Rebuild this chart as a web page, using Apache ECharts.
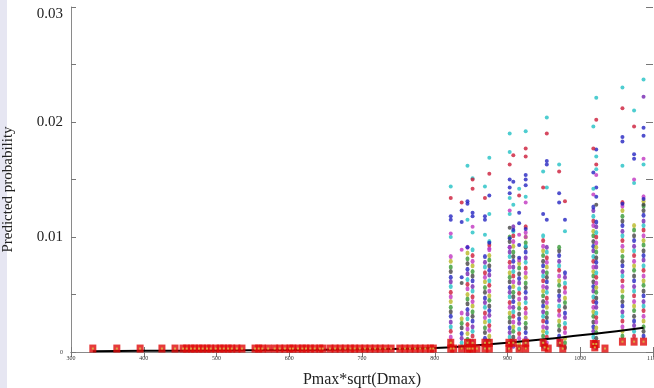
<!DOCTYPE html>
<html>
<head>
<meta charset="UTF-8" />
<script src="https://cdn.jsdelivr.net/npm/echarts@6/dist/echarts.min.js"></script>
<style>
  html, body, #main { margin: 0; padding: 0; width: 654px; height: 388px; background: #fff; }
</style>
</head>
<body>
<div id="main"></div>
<script>
// x positions (Pmax*sqrt(Dmax)) of the vertical point columns
const colX = [822, 837, 845, 852, 869, 875, 903, 908, 916, 925, 949, 954, 971, 979, 1018, 1022, 1058, 1074, 1087];

// dense part of each column, predicted probability in units of 1e-4
const denseVals = [
  [5, 9, 13, 18, 22, 26, 31, 35, 39, 44, 48, 52, 57, 61, 65, 70, 74, 79, 83],
  [4, 8, 12, 16, 21, 25, 29, 34],
  [3, 7, 11, 16, 20, 24, 29, 33, 37, 42, 46, 50, 55, 59, 63, 68, 72, 77, 81, 86, 91],
  [5, 9, 14, 18, 22, 27, 31, 35, 40, 44, 48, 53, 57, 62, 66, 70, 75, 79, 84, 89],
  [4, 8, 12, 17, 21, 26, 30, 34, 39, 43, 47, 52, 56, 61, 65, 69, 74, 78, 83],
  [6, 10, 14, 19, 23, 27, 32, 36, 40, 45, 49, 53, 58, 62, 67, 71, 75, 80, 84, 89, 93, 96],
  [4, 8, 13, 17, 21, 26, 30, 34, 39, 43, 48, 52, 56, 61, 65, 69, 74, 78, 83, 87, 91, 96, 100],
  [5, 9, 13, 18, 22, 26, 31, 35, 39, 44, 48, 52, 57, 61, 66, 70, 74, 79, 83, 87, 92, 96, 101, 105, 109],
  [3, 7, 12, 16, 20, 25, 29, 33, 38, 42, 46, 51, 55, 60, 64, 68, 73, 77, 80],
  [4, 8, 12, 17, 21, 25, 30, 34, 38, 43, 47, 52, 56, 60, 65, 69, 73, 78, 82, 87, 91, 95, 100, 104, 109],
  [5, 9, 14, 18, 22, 27, 31, 35, 40, 44, 49, 53, 57, 62, 66, 70, 75, 79, 84, 88, 92, 97, 101],
  [4, 8, 13, 17, 21, 26, 30, 34, 39, 43, 47, 52, 56, 61, 65, 69, 74, 78, 82, 87, 91],
  [6, 10, 14, 19, 23, 27, 32, 36, 40, 45, 49, 53, 58, 62, 66, 71, 75, 79, 84, 88, 91],
  [4, 8, 12, 17, 21, 25, 30, 34, 39, 43, 47, 52, 56, 60, 65, 69],
  [5, 9, 13, 18, 22, 26, 31, 35, 39, 44, 48, 53, 57, 61, 66, 70, 74, 79, 83, 88, 92, 96, 101, 105, 110, 114, 118, 123, 126],
  [4, 8, 12, 17, 21, 26, 30, 34, 39, 43, 47, 52, 56, 60, 65, 69, 74, 78, 82, 87, 91, 95, 100, 104, 109, 113],
  [14, 18, 22, 27, 31, 35, 40, 44, 48, 53, 57, 62, 66, 70, 75, 79, 83, 88, 92, 97, 101, 105, 110, 114, 118, 123, 127, 130],
  [14, 18, 23, 27, 31, 36, 40, 44, 49, 53, 57, 62, 66, 71, 75, 79, 84, 88, 92, 97, 101, 106, 110],
  [14, 18, 22, 27, 31, 36, 40, 44, 49, 53, 58, 62, 66, 71, 75, 80, 84, 88, 93, 97, 101, 106, 110, 114, 119, 123, 127, 131, 135]
];

// scattered upper points: [column index, value in 1e-4]
const sparseBlue = [[0,118],[0,115],[1,123],[1,113],[1,65],[2,131],[2,129],[2,91],[3,121],[3,118],[4,118],[4,115],
  [5,136],[5,95],[6,150],[6,143],[6,138],[6,99],[7,148],[7,106],[8,121],[8,112],[8,93],[8,82],[9,154],[9,150],
  [9,145],[9,107],[10,120],[11,166],[11,163],[11,115],[12,138],[12,130],[13,115],[14,156],[15,176],[15,143],
  [15,135],[16,187],[16,183],[16,129],[17,172],[17,168],[18,195],[18,188],[18,133]];
const sparseCyan = [[0,144],[0,100],[2,162],[2,115],[3,151],[3,104],[4,144],[4,102],[5,169],[5,120],[6,190],[6,174],
  [6,134],[6,120],[7,128],[8,142],[9,192],[9,135],[9,92],[10,157],[11,204],[11,143],[12,163],[13,105],[14,196],
  [14,142],[15,221],[15,170],[15,159],[16,230],[16,162],[17,210],[17,147],[18,237],[18,163]];
const sparseRed = [[0,134],[1,130],[3,150],[3,142],[4,134],[5,155],[6,163],[7,171],[8,136],[9,177],[9,170],[10,143],
  [11,190],[12,157],[13,131],[14,177],[15,202],[15,163],[16,212],[17,196]];
const sparseMagenta = [[0,103],[1,89],[3,109],[5,90],[6,123],[6,91],[8,102],[9,130],[9,100],[14,137],[15,154],[17,150],[18,168]];
const sparsePurple = [[18,222]];
const sparseGray = [[1,60],[6,108],[15,128],[18,128]];

// observed cases (red squares), x and value in 1e-4
const squareX = [330, 363, 395, 425, 443, 454, 459, 465, 470, 476, 481, 487, 492, 499, 505, 510, 516, 521, 528, 535,
  553, 558, 563, 571, 580, 587, 594, 601, 605, 612, 618, 623, 629, 635, 642, 646, 656, 663, 670, 677, 684, 690, 697,
  704, 711, 718, 725, 732, 740, 752, 759, 766, 773, 780, 787, 794, 798,
  822, 822, 826, 837, 845, 845, 848, 852, 852, 858, 869, 869, 875, 875, 902, 902, 908, 916, 925, 925, 949, 951, 956,
  972, 976, 1018, 1020, 1022, 1034, 1058, 1074, 1087];
const squareV = [3, 3, 3, 3, 3, 3, 3, 3, 3, 3, 3, 3, 3, 3, 3, 3, 3, 3, 3, 3,
  3, 3, 3, 3, 3, 3, 3, 3, 3, 3, 3, 3, 3, 3, 3, 3, 3, 3, 3, 3, 3, 3, 3,
  3, 3, 3, 3, 3, 3, 3, 3, 3, 3, 3, 3, 3, 3,
  8, 3, 3, 3, 8, 3, 3, 8, 3, 3, 8, 3, 8, 3, 8, 3, 8, 3, 8, 3, 8, 4, 3,
  8, 3, 7, 4, 7, 3, 9, 9, 9];

// fitted curve
const fitX = [330, 400, 500, 600, 700, 800, 850, 900, 950, 1000, 1050, 1087];
const fitY = [0.00007, 0.0001, 0.00013, 0.00018, 0.00024, 0.00035, 0.00055, 0.0008, 0.0011, 0.00145, 0.0018, 0.0021];

const C = {
  blue: '#2424c0', cyan: '#22c0c4', red: '#cc1c38', magenta: '#c034c0',
  purple: '#7424b0', green: '#349834', olive: '#b8b824', gray: '#444444'
};
const cycle = [C.green, C.olive, C.magenta, C.red, C.cyan, C.purple, C.blue, C.gray];

const denseData = [];
denseVals.forEach((vals, c) => {
  vals.forEach((v, i) => {
    denseData.push({ value: [colX[c], v / 10000], itemStyle: { color: cycle[(i + c * 3) % 8] } });
  });
});
const sparse = (arr) => arr.map(([c, v]) => [colX[c], v / 10000]);
const squares = squareX.map((x, i) => [x, squareV[i] / 10000]);

function dots(data, color, size) {
  return { type: 'scatter', data, symbol: 'circle', symbolSize: size, itemStyle: { color }, z: 2, silent: true };
}

const serif = 'Liberation Serif';
const chart = echarts.init(document.getElementById('main'));
chart.setOption({
  animation: false,
  backgroundColor: '#fff',
  graphic: [
    { type: 'rect', left: 0, top: 0, shape: { width: 7, height: 388 }, style: { fill: '#e6e6f2' }, z: -1 }
  ],
  grid: { left: 71, right: 1, top: 7, bottom: 36, containLabel: false, outerBoundsMode: 'none' },
  xAxis: [
    {
      type: 'value', min: 300, max: 1100, interval: 100,
      name: 'Pmax*sqrt(Dmax)', nameLocation: 'middle', nameGap: 20,
      nameTextStyle: { fontFamily: serif, fontSize: 16, color: '#222' },
      axisLine: { lineStyle: { color: '#8a8a8a', width: 1 } },
      axisTick: { inside: true, length: 5, lineStyle: { color: '#777' } },
      axisLabel: { fontFamily: serif, fontSize: 6, color: '#333', margin: 3, formatter: (v) => String(v) },
      splitLine: { show: false }
    },
    {
      type: 'value', position: 'top', min: 300, max: 1100, interval: 100,
      axisLine: { lineStyle: { color: '#8a8a8a', width: 1 } },
      axisTick: { inside: true, length: 5, lineStyle: { color: '#777' } },
      axisLabel: { show: false },
      splitLine: { show: false }
    }
  ],
  yAxis: [
    {
      type: 'value', min: 0, max: 0.03, interval: 0.01,
      name: 'Predicted probability', nameLocation: 'middle', nameGap: 55,
      nameTextStyle: { fontFamily: serif, fontSize: 15, color: '#222', padding: [0, 20, 0, 0] },
      axisLine: { show: true, lineStyle: { color: '#8a8a8a', width: 1 } },
      axisTick: { inside: true, length: 5, lineStyle: { color: '#777' } },
      minorTick: { show: true, splitNumber: 2, length: 5, lineStyle: { color: '#777' } },
      axisLabel: {
        fontFamily: serif, fontSize: 15, color: '#222', margin: 8,
        formatter: (v) => (v === 0 ? '{s|0}' : v >= 0.03 ? '{t|' + v.toFixed(2) + '}' : v.toFixed(2)),
        rich: {
          s: { fontFamily: serif, fontSize: 6, color: '#333' },
          t: { fontFamily: serif, fontSize: 15, color: '#222', padding: [14, 0, 0, 0] }
        }
      },
      splitLine: { show: false }
    },
    {
      type: 'value', position: 'right', min: 0, max: 0.03, interval: 0.01,
      axisLine: { show: false },
      axisTick: { show: true, inside: true, length: 7, lineStyle: { color: '#777' } },
      minorTick: { show: true, splitNumber: 2, length: 7, lineStyle: { color: '#777' } },
      axisLabel: { show: false },
      splitLine: { show: false }
    }
  ],
  series: [
    dots(denseData, null, [4, 5]),
    dots(sparse(sparseBlue), C.blue, 4),
    dots(sparse(sparseCyan), C.cyan, 4),
    dots(sparse(sparseRed), C.red, 4),
    dots(sparse(sparseMagenta), C.magenta, 4),
    dots(sparse(sparsePurple), C.purple, 4),
    dots(sparse(sparseGray), C.gray, 4),
    {
      type: 'line', data: fitX.map((x, i) => [x, fitY[i]]), smooth: true, showSymbol: false,
      lineStyle: { color: '#000', width: 2 }, z: 3, silent: true
    },
    {
      type: 'scatter', data: squares, symbol: 'rect', symbolSize: [7, 8],
      itemStyle: { color: '#e00a0a' }, z: 4, silent: true
    },
    {
      type: 'scatter', data: squares, symbol: 'rect', symbolSize: 2,
      itemStyle: { color: '#d8c848' }, z: 5, silent: true
    }
  ]
});
</script>
</body>
</html>
